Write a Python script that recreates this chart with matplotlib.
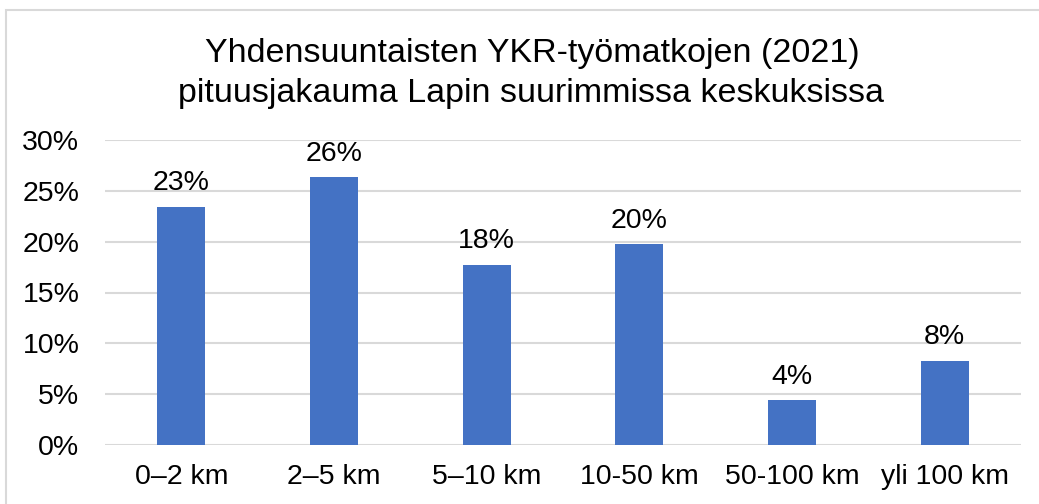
import matplotlib
matplotlib.use("Agg")
import matplotlib.pyplot as plt
from matplotlib.patches import Rectangle
from matplotlib.ticker import FuncFormatter

categories = ["0–2 km", "2–5 km", "5–10 km", "10-50 km", "50-100 km", "yli 100 km"]
values = [0.2346, 0.2635, 0.1775, 0.1975, 0.0438, 0.0828]
labels = ["23%", "26%", "18%", "20%", "4%", "8%"]
title_lines = ["Yhdensuuntaisten YKR-työmatkojen (2021)",
               "pituusjakauma Lapin suurimmissa keskuksissa"]

plt.rcParams['font.family'] = ['Liberation Sans', 'DejaVu Sans']

W, H = 1039, 504
fig = plt.figure(figsize=(W / 100, H / 100), dpi=100)
fig.patch.set_facecolor("white")

# chart border
fig.add_artist(Rectangle((6 / W, -0.05), 1.2, 1 - 9.5 / H + 0.05,
                         transform=fig.transFigure, fill=False,
                         edgecolor="#d9d9d9", linewidth=1.5))

ax = fig.add_axes([105 / W, 1 - 444.7 / H, (1021 - 105) / W, (444.7 - 140.3) / H])
x = range(len(categories))
bars = ax.bar(x, values, width=0.315, color="#4472C4", zorder=3)
ax.set_xlim(-0.5, len(categories) - 0.5)
ax.set_ylim(0, 0.30)
ax.set_yticks([0, 0.05, 0.10, 0.15, 0.20, 0.25, 0.30])
ax.yaxis.set_major_formatter(FuncFormatter(lambda v, p: f"{round(v * 100):d}%"))
ax.set_xticks(list(x))
ax.set_xticklabels(categories)
ax.grid(axis="y", color="#d9d9d9", linewidth=1.5, zorder=0)
for s in ax.spines.values():
    s.set_visible(False)
ax.tick_params(axis="both", length=0, labelsize=20.5, colors="#000000")
ax.tick_params(axis="y", pad=18.5)
ax.tick_params(axis="x", pad=14)

for b, lab in zip(bars, labels):
    ax.annotate(lab, (b.get_x() + b.get_width() / 2, b.get_height()),
                xytext=(0, 12), textcoords="offset points",
                ha="center", va="baseline", fontsize=20.5, color="#000000")

fig.text(532 / W, 1 - 62 / H, title_lines[0], ha="center", va="baseline",
         fontsize=24.5, color="#000000")
fig.text(531 / W, 1 - 102 / H, title_lines[1], ha="center", va="baseline",
         fontsize=24.5, color="#000000")

fig.savefig("out.png", dpi=100, facecolor="white")
